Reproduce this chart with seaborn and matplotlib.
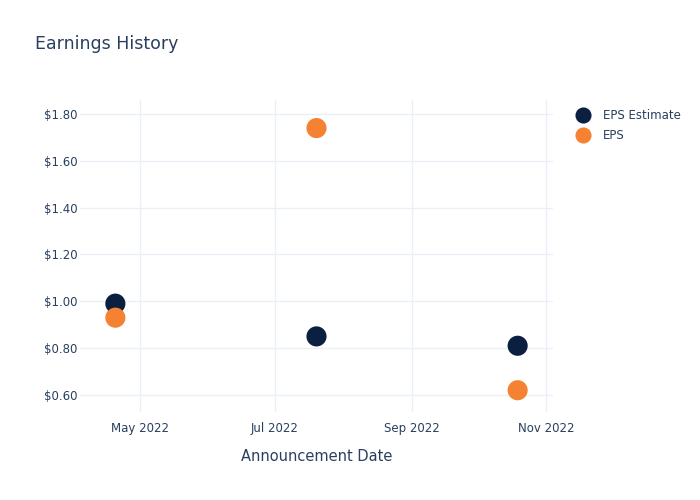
import matplotlib
matplotlib.use("Agg")
import matplotlib.pyplot as plt
import matplotlib.dates as mdates
import matplotlib.ticker as mticker
import seaborn as sns
import pandas as pd

dates = ["2022-04-20", "2022-07-20", "2022-10-19"]
eps_estimate = [0.99, 0.85, 0.81]
eps_actual = [0.93, 1.74, 0.62]
series_names = ["EPS Estimate", "EPS"]
colors = ["#0b1f41", "#f58233"]

df = pd.DataFrame({
    "date": pd.to_datetime(dates * 2),
    "value": eps_estimate + eps_actual,
    "series": [series_names[0]] * 3 + [series_names[1]] * 3,
})

sns.set_theme(style="white")
plt.rcParams["font.family"] = ["DejaVu Sans"]
text_color = "#2a3f5f"
grid_color = "#ebf0f8"

fig = plt.figure(figsize=(7, 5), dpi=100)
ax = fig.add_axes([80 / 700, 1 - 412 / 500, (553 - 80) / 700, (412 - 100) / 500])

sns.scatterplot(data=df, x="date", y="value", hue="series",
                palette=dict(zip(series_names, colors)), s=210,
                edgecolor="none", ax=ax, zorder=3)

ax.set_xlim(pd.Timestamp("2022-04-04"), pd.Timestamp("2022-11-04"))
ax.set_ylim(0.527, 1.86)
ax.xaxis.set_major_locator(mdates.MonthLocator(bymonth=[1, 3, 5, 7, 9, 11]))
ax.xaxis.set_major_formatter(mdates.DateFormatter("%b %Y"))
ax.yaxis.set_major_locator(mticker.MultipleLocator(0.2))
ax.yaxis.set_major_formatter(mticker.FuncFormatter(lambda v, p: f"${v:.2f}"))

ax.grid(True, color=grid_color, linewidth=1)
ax.set_axisbelow(True)
for sp in ax.spines.values():
    sp.set_visible(False)
ax.tick_params(axis="both", length=0, labelsize=8.5, colors=text_color)
ax.tick_params(axis="x", pad=7)
ax.tick_params(axis="y", pad=2)
ax.set_xlabel("Announcement Date", fontsize=10.5, color=text_color, labelpad=10)
ax.set_ylabel("")

fig.text(35 / 700, 1 - 44 / 500, "Earnings History", fontsize=12.5,
         color=text_color, va="center", ha="left")

leg = ax.legend(loc="upper left", bbox_to_anchor=(1.015, 1.005), frameon=False,
                fontsize=8.5, markerscale=0.8, handletextpad=0.75,
                labelspacing=0.6)
for t in leg.get_texts():
    t.set_color(text_color)

fig.savefig("out.png", dpi=100)
